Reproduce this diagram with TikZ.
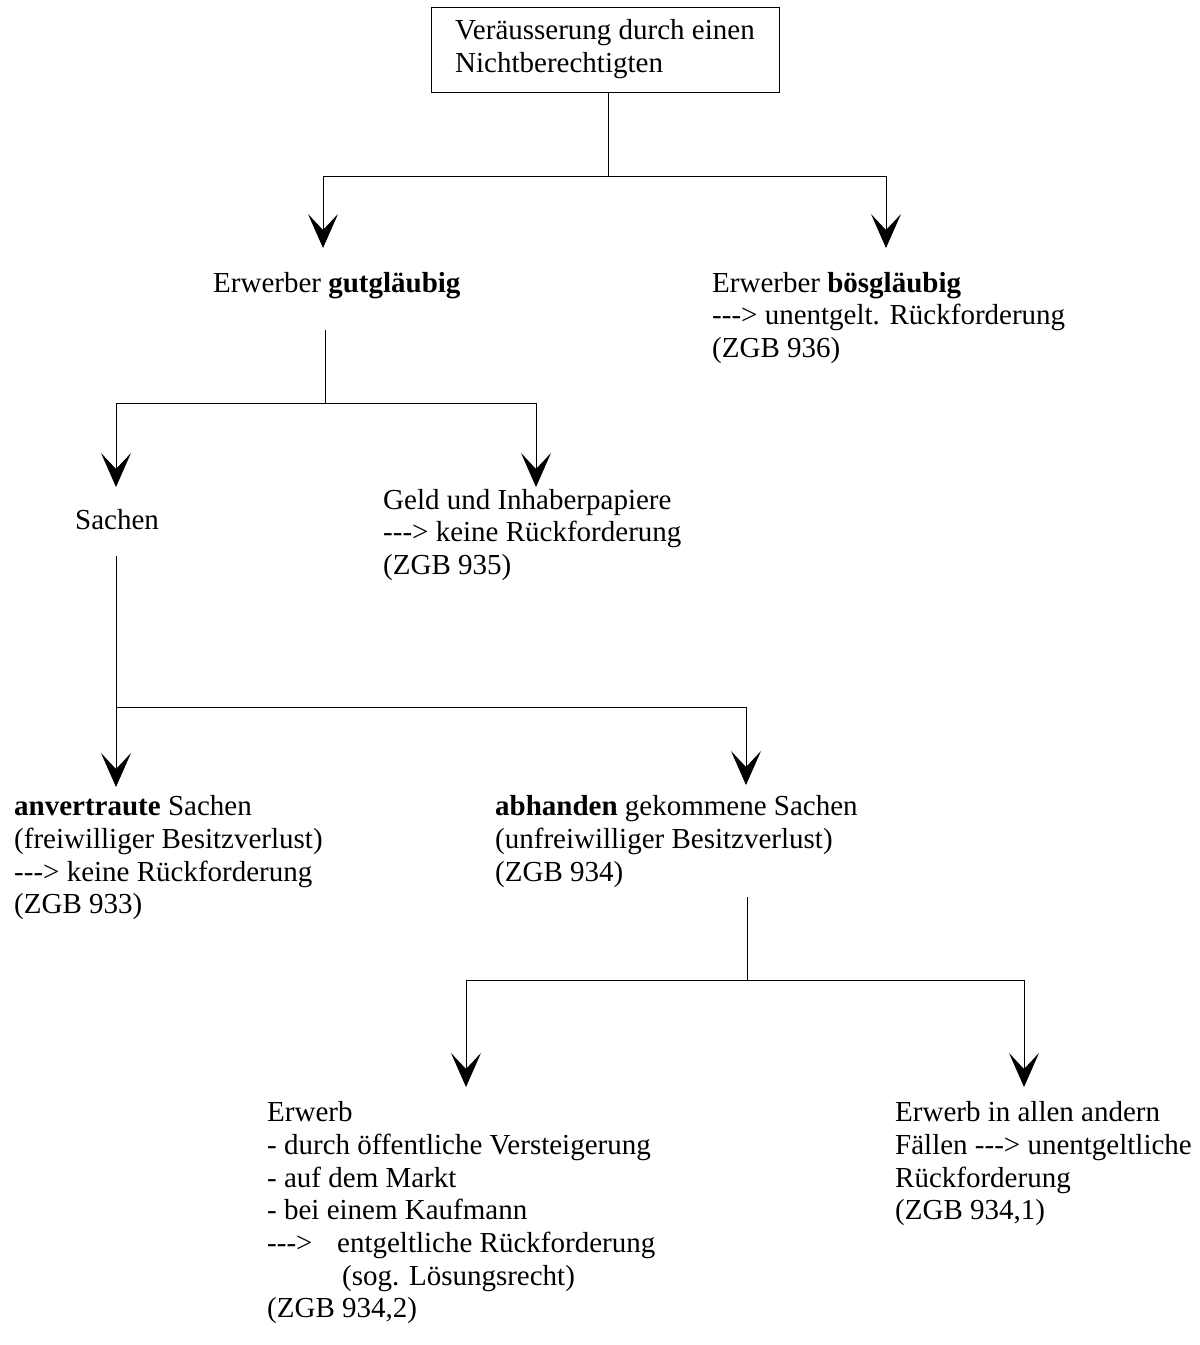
\documentclass[tikz,border=0pt]{standalone}
\usepackage{fontspec}
\setmainfont{Liberation Serif}[Ligatures=TeXOff]
\usetikzlibrary{arrows.meta}
\newcommand\dfs{\fontsize{29pt}{32.7pt}\selectfont}
\begin{document}
\begin{tikzpicture}[x=1pt,y=-1pt,
  ln/.style={line width=1pt},
  arr/.style={ln,-{Stealth[length=34pt,width=30pt,inset=16pt]}},
  txt/.style={anchor=north west,inner sep=0pt,align=left,font=\dfs,yshift=22.89pt}]
\useasboundingbox (0,0) rectangle (1200,1345);
\node[draw,line width=1pt,minimum width=348pt,minimum height=85pt,inner sep=0pt,align=left,font=\dfs] (top) at (605,49.5) {\strut Veräusserung durch einen\\Nichtberechtigten\strut};
\node[txt] (gut) at (213,292) {\strut Erwerber \textbf{gutgläubig}};
\node[txt] (bos) at (712,292) {\strut Erwerber \textbf{bösgläubig}\\---> unentgelt. Rückforderung\\(ZGB 936)};
\node[txt] (sachen) at (75,529) {\strut Sachen};
\node[txt] (geld) at (383,509) {\strut Geld und Inhaberpapiere\\---> keine Rückforderung\\(ZGB 935)};
\node[txt] (anv) at (14,815.5) {\strut\textbf{anvertraute} Sachen\\(freiwilliger Besitzverlust)\\---> keine Rückforderung\\(ZGB 933)};
\node[txt] (abh) at (495,815.5) {\strut\textbf{abhanden} gekommene Sachen\\(unfreiwilliger Besitzverlust)\\(ZGB 934)};
\node[txt] (erw) at (267,1121.5) {\strut Erwerb\\- durch öffentliche Versteigerung\\- auf dem Markt\\- bei einem Kaufmann\\\makebox[70pt][l]{--->}entgeltliche Rückforderung\\\hspace*{75pt}(sog. Lösungsrecht)\\(ZGB 934,2)};
\node[txt] (andere) at (895,1121.5) {\strut Erwerb in allen andern\\Fällen ---> unentgeltliche\\Rückforderung\\(ZGB 934,1)};
% connectors
\coordinate (j1) at (608,176);
\coordinate (t1) at (323,248);
\coordinate (t2) at (886,248);
\draw[ln] (top.south -| j1) -- (j1);
\draw[arr] (j1) -| (t1);
\draw[arr] (j1) -| (t2);
\coordinate (s2) at (325.7,330);
\coordinate (j2) at (325.7,403);
\coordinate (t3) at (116,487);
\coordinate (t4) at (536,487);
\draw[ln] (s2) -- (j2);
\draw[arr] (j2) -| (t3);
\draw[arr] (j2) -| (t4);
\coordinate (s3) at (116,556);
\coordinate (j3) at (116,707);
\coordinate (t5) at (116,787);
\coordinate (t6) at (746,785);
\draw[arr] (s3) -- (t5);
\draw[arr] (j3) -| (t6);
\coordinate (s4) at (747,897);
\coordinate (j4) at (747,980);
\coordinate (t7) at (466,1087);
\coordinate (t8) at (1024,1087);
\draw[ln] (s4) -- (j4);
\draw[arr] (j4) -| (t7);
\draw[arr] (j4) -| (t8);
\end{tikzpicture}
\end{document}
